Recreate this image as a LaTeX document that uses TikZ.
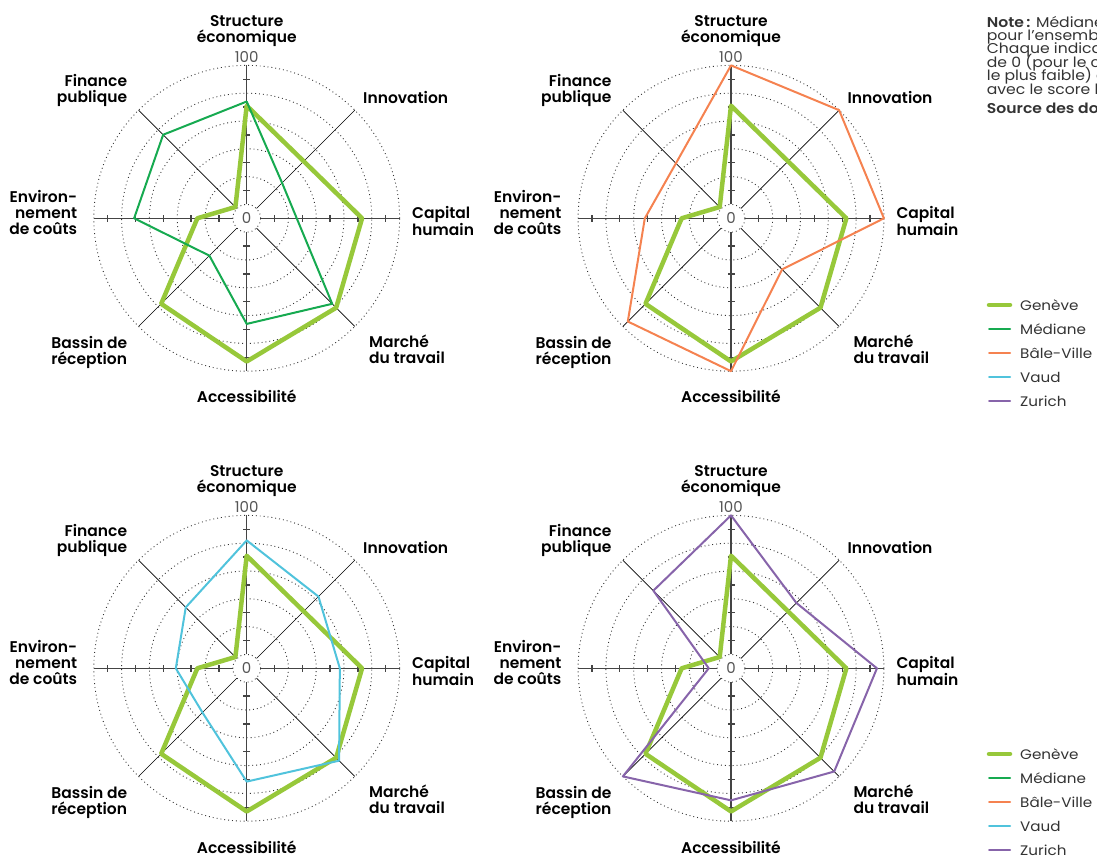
\documentclass[tikz,border=0pt]{standalone}
\usepackage{fontspec}
\setmainfont{Poppins}[BoldFont={Poppins SemiBold}]
\newfontfamily\widefont{Poppins}[FakeStretch=1.1, BoldFont={Poppins SemiBold}]
\usetikzlibrary{calc}

\definecolor{geneve}{HTML}{97C83A}
\definecolor{mediane}{HTML}{16AA50}
\definecolor{bale}{HTML}{F58250}
\definecolor{vaud}{HTML}{50C3DC}
\definecolor{zurich}{HTML}{8764AA}
\definecolor{axisgray}{HTML}{444444}
\definecolor{gridgray}{HTML}{333333}
\definecolor{textgray}{HTML}{555555}
\definecolor{notegray}{HTML}{333333}

% radius of a score (0 sits on the small inner circle, 100 on the outer one)
\newcommand\rv[1]{13.9+1.39*(#1)}

\tikzset{
  grid circle/.style={draw=gridgray, line width=0.9pt, dash pattern=on 0.9pt off 3pt},
  main axis/.style={draw=axisgray, line width=1.3pt},
  diag axis/.style={draw=black, line width=0.7pt},
  axis tick/.style={draw=axisgray, line width=1.3pt},
  axis label/.style={font=\bfseries\fontsize{15.5}{16}\selectfont, text=black, inner sep=0pt},
  scale label/.style={font=\fontsize{15}{16}\selectfont, text=textgray, inner sep=0pt},
  gen line/.style={draw=geneve, line width=4.5pt, line join=round},
  med line/.style={draw=mediane, line width=2pt, line join=round},
  bale line/.style={draw=bale, line width=2pt, line join=round},
  vaud line/.style={draw=vaud, line width=2pt, line join=round},
  zur line/.style={draw=zurich, line width=2pt, line join=round},
  legend text/.style={font=\widefont\fontsize{13.8}{16}\selectfont, text=notegray, inner sep=0pt},
  note text/.style={font=\widefont\fontsize{14.2}{13.4}\selectfont, text=notegray, inner sep=0pt, anchor=base west},
}

% one polygon: style, then Structure, Innovation, Capital, Marche, Accessibilite, Bassin, Environnement, Finance
\newcommand\radarline[9]{%
  \draw[#1] (90:{\rv{#2}}) -- (45:{\rv{#3}}) -- (0:{\rv{#4}}) -- (-45:{\rv{#5}})
    -- (-90:{\rv{#6}}) -- (-135:{\rv{#7}}) -- (180:{\rv{#8}}) -- (135:{\rv{#9}}) -- cycle;
}

% circles, axes, ticks and labels of one chart
\newcommand\radargrid[1]{%
  \foreach \k in {0,...,5}
    \draw[grid circle] (0,0) circle ({13.9+27.8*\k});
  \foreach \a in {45,135,225,315}
    \draw[diag axis] (\a:13.9) -- (\a:152.9);
  \foreach \a in {0,90,180,270} {
    \draw[main axis] (\a:13.9) -- (\a:152.9);
    \foreach \k in {1,...,5}
      \draw[axis tick] ({\a}:{27.8*\k}) ++({\a+90}:3.5) -- ++({\a-90}:7);
  }
  % base anchor = baseline of the last line
  \node[axis label, anchor=base, align=center] (#1-struct) at (0,175.6) {Structure\\économique};
  \node[axis label, anchor=base west, align=left] (#1-innov) at (116.3,115) {Innovation};
  \node[axis label, anchor=base west, align=left] (#1-cap) at (165.3,-17) {Capital\\humain};
  \node[axis label, anchor=base west, align=left] (#1-marche) at (122.3,-145) {Marché\\du travail};
  \node[axis label, anchor=base, align=center] (#1-access) at (0,-184.7) {Accessibilité};
  \node[axis label, anchor=base east, align=right] (#1-bassin) at (-119.4,-146) {Bassin de\\réception};
  \node[axis label, anchor=base east, align=right] (#1-env) at (-169.4,-16) {Environ-\\nement\\de coûts};
  \node[axis label, anchor=base east, align=right] (#1-fin) at (-119.4,116) {Finance\\publique};
  \node[scale label, anchor=base] (#1-max) at (0,155.6) {100};
  \node[scale label] (#1-zero) at (0,0) {0};
}

% legend with the five series
\newcommand\legendblock[2]{%
  \foreach \sty/\txt [count=\i from 0] in {gen line/Genève, med line/Médiane,
      bale line/Bâle-Ville, vaud line/Vaud, zur line/Zurich} {
    \draw[\sty, line cap=round] (989,{#2-24*\i}) -- ++(21,0);
    \node[legend text, anchor=west] (#1-\i) at (1020,{#2-24*\i}) {\txt};
  }
}

\begin{document}
\begin{tikzpicture}[x=1pt, y=1pt]
\useasboundingbox (0,0) rectangle (1097,857);
\clip (0,0) rectangle (1097,857);

% top left: Geneve and median
\begin{scope}[shift={(246.7,638.7)}]
  \radargrid{tl}
  \radarline{gen line}{71}{48}{73}{81}{93}{77}{25.5}{1.5}
  \radarline{med line}{74}{26}{26}{77}{66}{28}{71}{75}
\end{scope}

% top right: Geneve and Bale-Ville
\begin{scope}[shift={(731,638.7)}]
  \radargrid{tr}
  \radarline{gen line}{71}{48}{73}{81}{93}{77}{25.5}{1.5}
  \radarline{bale line}{100}{100}{100}{42}{100}{95}{52}{46}
\end{scope}

% bottom left: Geneve and Vaud
\begin{scope}[shift={(246.7,188.7)}]
  \radargrid{bl}
  \radarline{gen line}{71}{48}{73}{81}{93}{77}{25.5}{1.5}
  \radarline{vaud line}{82}{63}{57}{84}{71.5}{35}{41}{52}
\end{scope}

% bottom right: Geneve and Zurich
\begin{scope}[shift={(731,188.7)}]
  \radargrid{br}
  \radarline{gen line}{71}{48}{73}{81}{93}{77}{25.5}{1.5}
  \radarline{zur line}{100}{56.5}{95}{95}{85}{100}{6}{69}
\end{scope}

% note
\node[note text] (note1) at (986.7,829.7) {\textbf{Note\,:} Médiane des cantons};
\node[note text] (note2) at (986.7,816.3) {pour l’ensemble des cantons.};
\node[note text] (note3) at (986.7,803) {Chaque indicateur est normalisé};
\node[note text] (note4) at (986.7,789.7) {de 0 (pour le canton avec le score};
\node[note text] (note5) at (986.7,776.3) {le plus faible) à 100 (pour le canton};
\node[note text] (note6) at (986.7,762.7) {avec le score le plus élevé).};
\node[note text] (source) at (986.7,743.7) {\textbf{Source des données}};

% legends
\legendblock{legtop}{552}
\legendblock{legbot}{103}

\end{tikzpicture}
\end{document}
